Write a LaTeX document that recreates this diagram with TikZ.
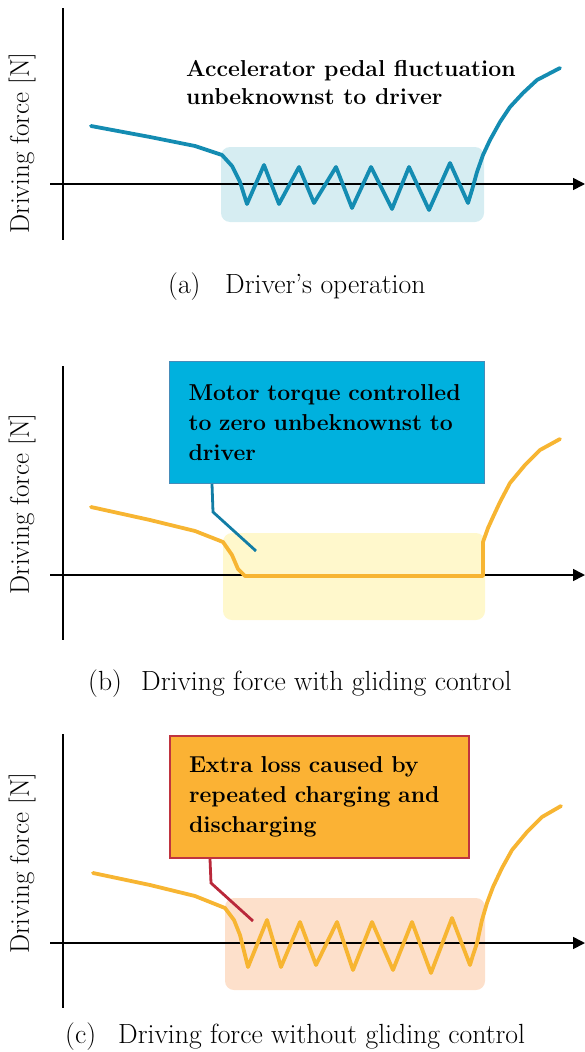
\documentclass[tikz,border=0pt]{standalone}
\usepackage{fontspec}
\usetikzlibrary{arrows.meta}
\definecolor{curveblue}{RGB}{20,140,178}
\definecolor{leaderblue}{RGB}{18,125,165}
\definecolor{curveorange}{RGB}{247,181,50}
\definecolor{boxblue}{RGB}{214,237,242}
\definecolor{boxyellow}{RGB}{255,248,204}
\definecolor{boxpeach}{RGB}{253,224,203}
\definecolor{calloutblue}{RGB}{0,177,222}
\definecolor{calloutblueedge}{RGB}{70,140,185}
\definecolor{calloutorange}{RGB}{251,178,52}
\definecolor{calloutred}{RGB}{192,52,63}
\definecolor{leaderred}{RGB}{185,40,58}
\begin{document}
\begin{tikzpicture}[x=1pt,y=-1pt,
  axisline/.style={line width=1.6pt,black},
  xarrow/.style={axisline,-{Triangle[length=12pt,width=12pt]}},
  curveline/.style={line width=3.8pt,line join=round,line cap=round},
  leader/.style={line width=2.8pt,line join=miter},
  hlbox/.style={rounded corners=9pt},
  ylabel/.style={rotate=90,font=\fontsize{27}{30}\selectfont,inner sep=0pt},
  captionlab/.style={anchor=base west,inner sep=0pt,font=\fontsize{27.7}{32}\selectfont},
  calltext/.style={font=\fontsize{23}{30}\selectfont\bfseries,align=left},
  callbox/.style={calltext,anchor=north west,text width=277pt,inner xsep=19pt,minimum height=122pt}
]
\useasboundingbox (0,0) rectangle (585,1052);

% ---------------- panel (a) ----------------
\fill[boxblue,hlbox] (221,147) rectangle (484,222);
\draw[axisline] (63,8) coordinate (ya-top) -- (63,240) coordinate (ya-bot);
\draw[xarrow] (50,184) coordinate (xa-start) -- (585,184) coordinate (xa-end);
\draw[curveline,curveblue] plot coordinates {(91,126) (150,137) (195,146) (222,155) (232,166) (240,182) (247,204) (264,165) (279,204) (299,167) (314,203) (336,167) (352,208) (371,167) (392,209) (409,167) (429,210) (450,163) (468,203) (472,190) (477,172) (483,155) (490,140) (500,122) (510,107) (523,93) (537,80) (560,68)};
\node[ylabel] (ya-lab) at (22,143) {Driving force [N]};
\node[calltext,anchor=base west,inner sep=0pt] (a-text) at (186,104) {Accelerator pedal fluctuation\\[-2pt]unbeknownst to driver};
\node[captionlab] (a-cap) at (168,293) {(a)};
\node[captionlab] (a-captext) at (225,293) {Driver’s operation};

% ---------------- panel (b) ----------------
\fill[boxyellow,hlbox] (223,533) rectangle (485,620);
\draw[axisline] (63,366) coordinate (yb-top) -- (63,640) coordinate (yb-bot);
\draw[xarrow] (50,575) coordinate (xb-start) -- (585,575) coordinate (xb-end);
\draw[curveline,curveorange] plot coordinates {(91,507) (150,520) (195,531) (223,542) (232,555) (238,569) (245,576) (483,576) (483,542) (488,528) (493,517) (500,502) (510,483) (525,465) (540,450) (560,439)};
\node[ylabel] (yb-lab) at (22,504) {Driving force [N]};
\node[callbox,fill=calloutblue,draw=calloutblueedge,line width=1pt] (b-call) at (169,361)
  {\mbox{Motor torque controlled}\\\mbox{to zero unbeknownst to}\\driver};
\coordinate (b-bend) at (213,512);
\coordinate (b-end) at (256,551);
\draw[leader,leaderblue] (b-call.south west -| 212,0) -- (b-bend) -- (b-end);
\node[captionlab] (b-cap) at (88,690) {(b)};
\node[captionlab] (b-captext) at (141,690) {Driving force with gliding control};

% ---------------- panel (c) ----------------
\fill[boxpeach,hlbox] (225,898) rectangle (485,990);
\draw[axisline] (63,734) coordinate (yc-top) -- (63,1008) coordinate (yc-bot);
\draw[xarrow] (50,943) coordinate (xc-start) -- (585,943) coordinate (xc-end);
\draw[curveline,curveorange] plot coordinates {(93,873) (150,885) (195,896) (225,908) (234,920) (240,935) (248,967) (267,920) (281,967) (300,922) (316,965) (337,922) (353,970) (372,922) (393,970) (412,922) (431,973) (452,918) (470,965) (473,955) (477,943) (482,920) (487,903) (493,887) (502,868) (512,850) (527,832) (542,817) (561,806)};
\node[ylabel] (yc-lab) at (22,863) {Driving force [N]};
\node[callbox,fill=calloutorange,draw=calloutred,line width=2pt,text width=261pt] (c-call) at (169,735)
  {\mbox{Extra loss caused by}\\\mbox{repeated charging and}\\discharging};
\coordinate (c-bend) at (211,883);
\coordinate (c-end) at (253,921);
\draw[leader,leaderred] (c-call.south west -| 210,0) -- (c-bend) -- (c-end);
\node[captionlab] (c-cap) at (65,1043) {(c)};
\node[captionlab] (c-captext) at (118,1043) {Driving force without gliding control};
\end{tikzpicture}
\end{document}
